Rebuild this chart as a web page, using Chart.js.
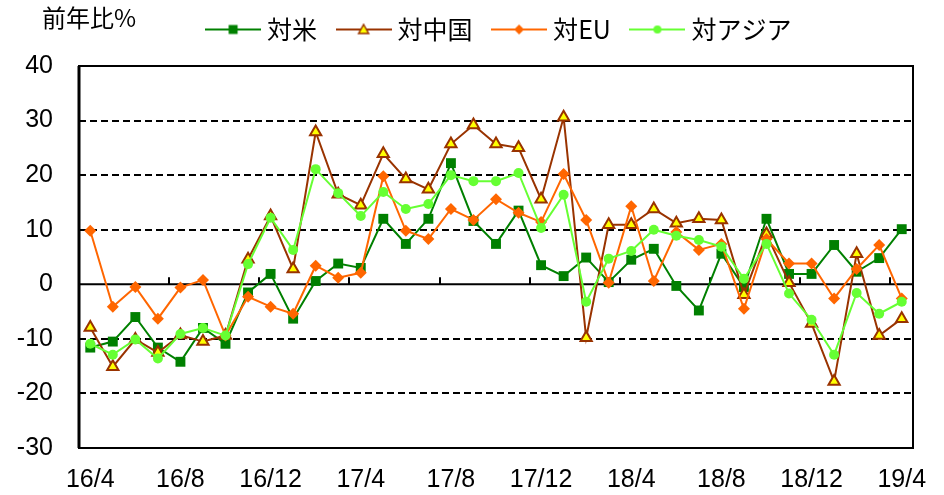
<!DOCTYPE html>
<html>
<head>
<meta charset="utf-8">
<script src="https://cdn.jsdelivr.net/npm/chart.js@4.4.1/dist/chart.umd.min.js"></script>
<style>
  body { margin: 0; background: #fff; }
  canvas { display: block; }
</style>
</head>
<body>
<canvas id="myChart" width="944" height="495"></canvas>
<script>
var months = ['16/4', '16/5', '16/6', '16/7', '16/8', '16/9', '16/10', '16/11', '16/12',
    '17/1', '17/2', '17/3', '17/4', '17/5', '17/6', '17/7', '17/8', '17/9', '17/10', '17/11', '17/12',
    '18/1', '18/2', '18/3', '18/4', '18/5', '18/6', '18/7', '18/8', '18/9', '18/10', '18/11', '18/12',
    '19/1', '19/2', '19/3', '19/4'];

var seriesNames = ['対米', '対中国', '対EU', '対アジア'];

var usValues = [-11.6, -10.5, -6.0, -11.6, -14.2, -8.0, -10.9, -1.5, 1.9, -6.3, 0.6, 3.8, 3.0,
    12.0, 7.4, 12.0, 22.2, 11.6, 7.4, 13.5, 3.5, 1.5, 4.9, 0.4, 4.5, 6.5, -0.3, -4.8,
    5.6, -0.5, 12.0, 1.9, 1.9, 7.2, 2.3, 4.8, 10.1];

var chinaValues = [-7.9, -15.1, -10.1, -12.5, -9.3, -10.5, -9.4, 4.6, 12.5, 2.8, 27.9, 16.5, 14.5,
    23.9, 19.3, 17.4, 25.7, 29.2, 25.7, 25.0, 15.6, 30.6, -9.8, 10.9, 10.9, 13.8, 11.2, 12.0,
    11.8, -1.9, 9.2, 0.3, -7.2, -17.8, 5.6, -9.4, -6.3];

var euValues = [9.8, -4.1, -0.5, -6.3, -0.6, 0.8, -9.4, -2.3, -4.1, -5.4, 3.4, 1.2, 2.1,
    19.8, 9.8, 8.3, 13.8, 11.8, 15.6, 13.1, 11.4, 20.2, 11.8, 0.3, 14.3, 0.6, 9.6, 6.3,
    7.4, -4.5, 8.3, 3.8, 3.8, -2.6, 2.8, 7.2, -2.6];

var asiaValues = [-10.9, -12.9, -10.1, -13.6, -9.1, -8.0, -9.4, 3.7, 12.2, 6.3, 21.1, 16.7, 12.5,
    16.9, 13.8, 14.7, 20.0, 18.9, 18.9, 20.4, 10.3, 16.4, -3.2, 4.7, 6.1, 10.0, 8.9, 8.1,
    6.9, 1.0, 7.4, -1.7, -6.5, -12.9, -1.6, -5.4, -3.2];

var yMin = -30, yMax = 40, yStep = 10;

var cjkFont = '"Noto Sans CJK JP", "Noto Sans", sans-serif';
var numFont = '"Liberation Sans", Arial, sans-serif';

// little line+marker picture for the legend
function legendIcon(color, style, fill) {
    var c = document.createElement('canvas');
    c.width = 56;
    c.height = 14;
    var g = c.getContext('2d');
    g.strokeStyle = color;
    g.lineWidth = 2;
    g.beginPath();
    g.moveTo(0, 7);
    g.lineTo(56, 7);
    g.stroke();
    g.fillStyle = fill;
    g.beginPath();
    if (style == 'rect') {
        g.rect(23.5, 2.5, 9, 9);
        g.fill();
    } else if (style == 'triangle') {
        g.moveTo(28, 2);
        g.lineTo(33, 11);
        g.lineTo(23, 11);
        g.closePath();
        g.fill();
        g.lineWidth = 1.5;
        g.stroke();
    } else if (style == 'rectRot') {
        g.moveTo(28, 2);
        g.lineTo(33, 7);
        g.lineTo(28, 12);
        g.lineTo(23, 7);
        g.closePath();
        g.fill();
    } else {
        g.arc(28, 7, 4, 0, Math.PI * 2);
        g.fill();
    }
    return c;
}

var frame = {
    id: 'frame',
    afterLayout: function (chart) {
        // nudge the legend to where the original has it
        var lg = chart.legend;
        lg.left += 45;
        lg.right += 45;
        lg.top -= 14;
        lg.bottom -= 14;
    },
    beforeDatasetsDraw: function (chart) {
        var ctx = chart.ctx;
        var area = chart.chartArea;
        var xs = chart.scales.x;
        var ys = chart.scales.y;
        var y0 = ys.getPixelForValue(0);
        var half = (xs.getPixelForValue(1) - xs.getPixelForValue(0)) / 2;
        ctx.save();
        ctx.strokeStyle = '#000';
        ctx.lineWidth = 2;
        ctx.strokeRect(area.left, area.top, area.right - area.left, area.bottom - area.top);
        ctx.lineWidth = 3;
        ctx.beginPath();
        ctx.moveTo(area.left, area.top);
        ctx.lineTo(area.left, area.bottom);
        ctx.stroke();
        ctx.lineWidth = 2;
        ctx.beginPath();
        ctx.moveTo(area.left, y0);
        ctx.lineTo(area.right, y0);
        for (var i = 4; i < months.length; i += 4) {
            var x = Math.round(xs.getPixelForValue(i) - half);
            ctx.moveTo(x, y0);
            ctx.lineTo(x, y0 - 7);
        }
        ctx.stroke();
        ctx.restore();
    },
    afterDraw: function (chart) {
        var ctx = chart.ctx;
        ctx.save();
        ctx.fillStyle = '#000';
        ctx.font = '24px ' + cjkFont;
        ctx.textBaseline = 'middle';
        ctx.fillText('前年比%', 42, 18);
        ctx.restore();
    }
};

function drawChart() {
    var ctx = document.getElementById('myChart');

    var dataConfig = {
        labels: months,
        datasets: [
            {
                label: seriesNames[0],
                data: usValues,
                borderColor: '#008000',
                backgroundColor: '#008000',
                borderWidth: 2,
                pointStyle: 'rect',
                pointRadius: 7,
                pointBorderWidth: 0,
                order: 4
            },
            {
                label: seriesNames[1],
                data: chinaValues,
                borderColor: '#993300',
                backgroundColor: '#FFFF00',
                pointBorderColor: '#993300',
                borderWidth: 2,
                pointStyle: 'triangle',
                pointRadius: 6.5,
                pointBorderWidth: 2,
                order: 3
            },
            {
                label: seriesNames[2],
                data: euValues,
                borderColor: '#FF6600',
                backgroundColor: '#FF6600',
                borderWidth: 2,
                pointStyle: 'rectRot',
                pointRadius: 6,
                pointBorderWidth: 0,
                order: 2
            },
            {
                label: seriesNames[3],
                data: asiaValues,
                borderColor: '#66FF33',
                backgroundColor: '#66FF33',
                borderWidth: 2,
                pointStyle: 'circle',
                pointRadius: 5,
                pointBorderWidth: 0,
                order: 1
            }
        ]
    };

    var icons = [
        legendIcon('#008000', 'rect', '#008000'),
        legendIcon('#993300', 'triangle', '#FFFF00'),
        legendIcon('#FF6600', 'rectRot', '#FF6600'),
        legendIcon('#66FF33', 'circle', '#66FF33')
    ];

    var options = {
        responsive: false,
        animation: false,
        devicePixelRatio: 1,
        layout: { padding: { left: 0, right: 31, top: 6, bottom: 0 } },
        plugins: {
            tooltip: { enabled: false },
            legend: {
                position: 'top',
                align: 'center',
                labels: {
                    usePointStyle: true,
                    pointStyleWidth: 43,
                    padding: 25,
                    color: '#000',
                    font: { family: cjkFont, size: 25 },
                    generateLabels: function (chart) {
                        return chart.data.datasets.map(function (ds, i) {
                            return {
                                text: ds.label,
                                pointStyle: icons[i],
                                fillStyle: ds.backgroundColor,
                                strokeStyle: ds.borderColor,
                                lineWidth: 0,
                                fontColor: '#000',
                                hidden: false,
                                datasetIndex: i
                            };
                        });
                    }
                }
            }
        },
        scales: {
            x: {
                offset: true,
                afterFit: function (scale) {
                    scale.height = 47;
                },
                grid: { display: false, drawTicks: false },
                border: { display: false },
                ticks: {
                    autoSkip: false,
                    maxRotation: 0,
                    padding: 17,
                    color: '#000',
                    font: { family: numFont, size: 25 },
                    callback: function (val, idx) {
                        return idx % 4 == 0 ? months[idx] : '';
                    }
                }
            },
            y: {
                min: yMin,
                max: yMax,
                afterFit: function (scale) {
                    scale.width = 79;
                },
                grid: {
                    drawTicks: false,
                    lineWidth: 2,
                    color: function (c) {
                        var v = c.tick ? c.tick.value : 0;
                        if (v == 0 || v == yMin || v == yMax) return 'rgba(0,0,0,0)';
                        return '#000';
                    }
                },
                border: { display: false, dash: [7, 4] },
                ticks: {
                    stepSize: yStep,
                    padding: 26,
                    color: '#000',
                    font: { family: numFont, size: 25 }
                }
            }
        }
    };

    var myLineChart = new Chart(ctx, {
        type: 'line',
        data: dataConfig,
        options: options,
        plugins: [frame]
    });
}

drawChart();
</script>
</body>
</html>
